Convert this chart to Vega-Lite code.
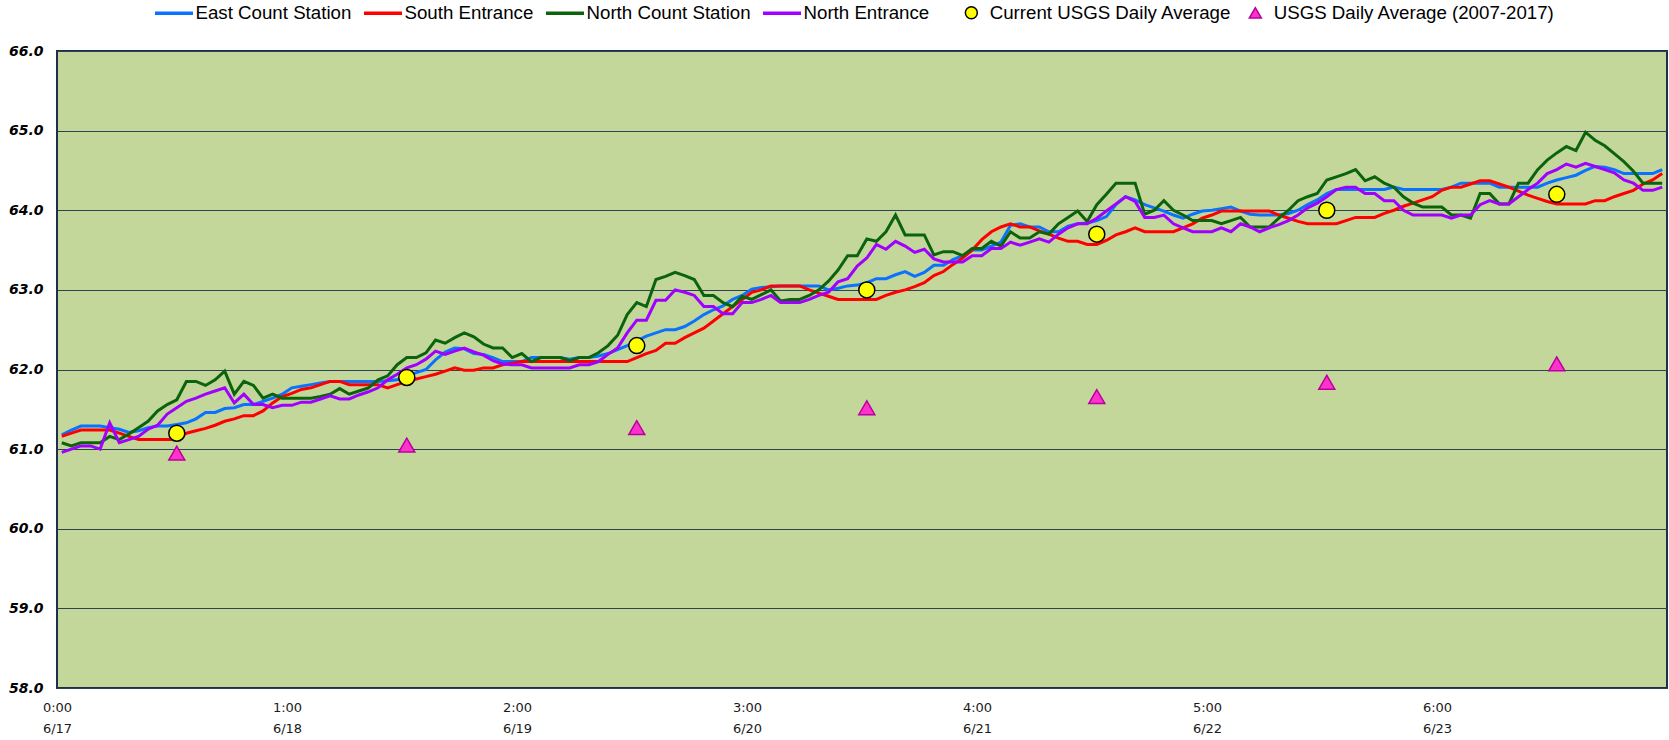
{
"$schema": "https://vega.github.io/schema/vega-lite/v6.json",
"width": 1610, "height": 637,
"autosize": {"type": "none"},
"padding": {"left": 57, "top": 51, "right": 2, "bottom": 52},
"background": "white",
"config": {"view": {"fill": "#C4D79B", "stroke": "#1F2E4D", "strokeWidth": 2}},
"datasets": {
"lines": [
{"h":0,"e":61.18,"s":61.16,"g":61.08,"p":60.96},
{"h":1,"e":61.24,"s":61.20,"g":61.04,"p":61.00},
{"h":2,"e":61.29,"s":61.24,"g":61.08,"p":61.04},
{"h":3,"e":61.29,"s":61.24,"g":61.08,"p":61.04},
{"h":4,"e":61.29,"s":61.24,"g":61.08,"p":61.00},
{"h":5,"e":61.27,"s":61.24,"g":61.16,"p":61.33},
{"h":6,"e":61.25,"s":61.20,"g":61.12,"p":61.08},
{"h":7,"e":61.21,"s":61.16,"g":61.19,"p":61.12},
{"h":8,"e":61.23,"s":61.12,"g":61.27,"p":61.16},
{"h":9,"e":61.27,"s":61.12,"g":61.35,"p":61.25},
{"h":10,"e":61.29,"s":61.12,"g":61.48,"p":61.30},
{"h":11,"e":61.29,"s":61.12,"g":61.56,"p":61.44},
{"h":12,"e":61.31,"s":61.12,"g":61.62,"p":61.52},
{"h":13,"e":61.33,"s":61.20,"g":61.85,"p":61.60},
{"h":14,"e":61.38,"s":61.23,"g":61.85,"p":61.64},
{"h":15,"e":61.46,"s":61.26,"g":61.80,"p":61.69},
{"h":16,"e":61.46,"s":61.30,"g":61.87,"p":61.73},
{"h":17,"e":61.51,"s":61.35,"g":61.98,"p":61.77},
{"h":18,"e":61.52,"s":61.38,"g":61.69,"p":61.58},
{"h":19,"e":61.56,"s":61.42,"g":61.85,"p":61.69},
{"h":20,"e":61.56,"s":61.42,"g":61.80,"p":61.56},
{"h":21,"e":61.60,"s":61.48,"g":61.64,"p":61.56},
{"h":22,"e":61.64,"s":61.58,"g":61.69,"p":61.52},
{"h":23,"e":61.69,"s":61.66,"g":61.64,"p":61.55},
{"h":24,"e":61.77,"s":61.70,"g":61.64,"p":61.55},
{"h":25,"e":61.79,"s":61.75,"g":61.64,"p":61.59},
{"h":26,"e":61.81,"s":61.77,"g":61.64,"p":61.59},
{"h":27,"e":61.83,"s":61.81,"g":61.66,"p":61.63},
{"h":28,"e":61.85,"s":61.85,"g":61.69,"p":61.67},
{"h":29,"e":61.85,"s":61.85,"g":61.76,"p":61.63},
{"h":30,"e":61.85,"s":61.81,"g":61.69,"p":61.63},
{"h":31,"e":61.85,"s":61.81,"g":61.73,"p":61.68},
{"h":32,"e":61.85,"s":61.81,"g":61.77,"p":61.72},
{"h":33,"e":61.85,"s":61.81,"g":61.87,"p":61.77},
{"h":34,"e":61.86,"s":61.77,"g":61.92,"p":61.87},
{"h":35,"e":61.87,"s":61.81,"g":62.06,"p":61.94},
{"h":36,"e":61.92,"s":61.85,"g":62.15,"p":62.02},
{"h":37,"e":61.96,"s":61.88,"g":62.15,"p":62.06},
{"h":38,"e":62.00,"s":61.91,"g":62.21,"p":62.13},
{"h":39,"e":62.12,"s":61.94,"g":62.37,"p":62.23},
{"h":40,"e":62.22,"s":61.98,"g":62.33,"p":62.19},
{"h":41,"e":62.27,"s":62.02,"g":62.40,"p":62.23},
{"h":42,"e":62.26,"s":61.99,"g":62.46,"p":62.27},
{"h":43,"e":62.20,"s":61.99,"g":62.41,"p":62.22},
{"h":44,"e":62.19,"s":62.02,"g":62.32,"p":62.18},
{"h":45,"e":62.15,"s":62.02,"g":62.27,"p":62.11},
{"h":46,"e":62.10,"s":62.06,"g":62.27,"p":62.07},
{"h":47,"e":62.10,"s":62.08,"g":62.15,"p":62.06},
{"h":48,"e":62.10,"s":62.10,"g":62.20,"p":62.06},
{"h":49,"e":62.15,"s":62.10,"g":62.10,"p":62.02},
{"h":50,"e":62.15,"s":62.10,"g":62.15,"p":62.02},
{"h":51,"e":62.15,"s":62.10,"g":62.15,"p":62.02},
{"h":52,"e":62.15,"s":62.10,"g":62.15,"p":62.02},
{"h":53,"e":62.13,"s":62.10,"g":62.11,"p":62.02},
{"h":54,"e":62.15,"s":62.10,"g":62.15,"p":62.06},
{"h":55,"e":62.15,"s":62.10,"g":62.15,"p":62.06},
{"h":56,"e":62.17,"s":62.10,"g":62.21,"p":62.10},
{"h":57,"e":62.20,"s":62.10,"g":62.30,"p":62.19},
{"h":58,"e":62.25,"s":62.10,"g":62.43,"p":62.27},
{"h":59,"e":62.30,"s":62.10,"g":62.69,"p":62.46},
{"h":60,"e":62.36,"s":62.15,"g":62.84,"p":62.62},
{"h":61,"e":62.42,"s":62.20,"g":62.79,"p":62.62},
{"h":62,"e":62.46,"s":62.24,"g":63.13,"p":62.87},
{"h":63,"e":62.50,"s":62.33,"g":63.17,"p":62.87},
{"h":64,"e":62.50,"s":62.33,"g":63.22,"p":63.00},
{"h":65,"e":62.54,"s":62.40,"g":63.18,"p":62.97},
{"h":66,"e":62.61,"s":62.46,"g":63.13,"p":62.93},
{"h":67,"e":62.69,"s":62.52,"g":62.93,"p":62.79},
{"h":68,"e":62.75,"s":62.61,"g":62.93,"p":62.79},
{"h":69,"e":62.80,"s":62.70,"g":62.84,"p":62.70},
{"h":70,"e":62.88,"s":62.79,"g":62.79,"p":62.70},
{"h":71,"e":62.93,"s":62.88,"g":62.92,"p":62.84},
{"h":72,"e":63.01,"s":62.97,"g":62.88,"p":62.84},
{"h":73,"e":63.03,"s":63.00,"g":62.94,"p":62.88},
{"h":74,"e":63.04,"s":63.05,"g":63.00,"p":62.93},
{"h":75,"e":63.05,"s":63.05,"g":62.86,"p":62.84},
{"h":76,"e":63.05,"s":63.05,"g":62.88,"p":62.84},
{"h":77,"e":63.05,"s":63.05,"g":62.88,"p":62.84},
{"h":78,"e":63.05,"s":63.00,"g":62.93,"p":62.88},
{"h":79,"e":63.05,"s":62.96,"g":63.00,"p":62.93},
{"h":80,"e":63.00,"s":62.92,"g":63.11,"p":62.97},
{"h":81,"e":63.02,"s":62.88,"g":63.25,"p":63.10},
{"h":82,"e":63.05,"s":62.88,"g":63.43,"p":63.14},
{"h":83,"e":63.06,"s":62.88,"g":63.43,"p":63.30},
{"h":84,"e":63.09,"s":62.88,"g":63.64,"p":63.40},
{"h":85,"e":63.14,"s":62.88,"g":63.61,"p":63.57},
{"h":86,"e":63.14,"s":62.93,"g":63.73,"p":63.51},
{"h":87,"e":63.19,"s":62.97,"g":63.94,"p":63.61},
{"h":88,"e":63.23,"s":63.00,"g":63.69,"p":63.55},
{"h":89,"e":63.17,"s":63.04,"g":63.69,"p":63.47},
{"h":90,"e":63.22,"s":63.09,"g":63.69,"p":63.51},
{"h":91,"e":63.31,"s":63.18,"g":63.44,"p":63.39},
{"h":92,"e":63.31,"s":63.23,"g":63.48,"p":63.35},
{"h":93,"e":63.38,"s":63.32,"g":63.48,"p":63.35},
{"h":94,"e":63.43,"s":63.40,"g":63.43,"p":63.35},
{"h":95,"e":63.50,"s":63.50,"g":63.52,"p":63.43},
{"h":96,"e":63.50,"s":63.63,"g":63.52,"p":63.43},
{"h":97,"e":63.55,"s":63.73,"g":63.61,"p":63.52},
{"h":98,"e":63.60,"s":63.79,"g":63.55,"p":63.52},
{"h":99,"e":63.81,"s":63.83,"g":63.73,"p":63.60},
{"h":100,"e":63.83,"s":63.79,"g":63.65,"p":63.56},
{"h":101,"e":63.79,"s":63.79,"g":63.65,"p":63.60},
{"h":102,"e":63.79,"s":63.74,"g":63.73,"p":63.64},
{"h":103,"e":63.73,"s":63.70,"g":63.70,"p":63.60},
{"h":104,"e":63.73,"s":63.65,"g":63.83,"p":63.70},
{"h":105,"e":63.80,"s":63.61,"g":63.91,"p":63.78},
{"h":106,"e":63.83,"s":63.61,"g":63.99,"p":63.83},
{"h":107,"e":63.84,"s":63.57,"g":63.86,"p":63.83},
{"h":108,"e":63.87,"s":63.57,"g":64.07,"p":63.90},
{"h":109,"e":63.92,"s":63.62,"g":64.20,"p":63.99},
{"h":110,"e":64.07,"s":63.69,"g":64.34,"p":64.08},
{"h":111,"e":64.17,"s":63.73,"g":64.34,"p":64.17},
{"h":112,"e":64.13,"s":63.78,"g":64.34,"p":64.11},
{"h":113,"e":64.07,"s":63.73,"g":63.95,"p":63.91},
{"h":114,"e":64.03,"s":63.73,"g":64.00,"p":63.91},
{"h":115,"e":63.99,"s":63.73,"g":64.12,"p":63.94},
{"h":116,"e":63.94,"s":63.73,"g":64.00,"p":63.83},
{"h":117,"e":63.90,"s":63.78,"g":63.94,"p":63.78},
{"h":118,"e":63.95,"s":63.83,"g":63.87,"p":63.73},
{"h":119,"e":63.99,"s":63.90,"g":63.87,"p":63.73},
{"h":120,"e":64.00,"s":63.94,"g":63.87,"p":63.73},
{"h":121,"e":64.02,"s":63.99,"g":63.83,"p":63.78},
{"h":122,"e":64.04,"s":63.99,"g":63.87,"p":63.73},
{"h":123,"e":63.99,"s":63.99,"g":63.91,"p":63.83},
{"h":124,"e":63.95,"s":63.99,"g":63.79,"p":63.79},
{"h":125,"e":63.94,"s":63.99,"g":63.79,"p":63.73},
{"h":126,"e":63.94,"s":63.99,"g":63.79,"p":63.78},
{"h":127,"e":63.94,"s":63.94,"g":63.90,"p":63.82},
{"h":128,"e":63.96,"s":63.90,"g":64.00,"p":63.87},
{"h":129,"e":64.00,"s":63.86,"g":64.12,"p":63.94},
{"h":130,"e":64.07,"s":63.83,"g":64.17,"p":64.03},
{"h":131,"e":64.13,"s":63.83,"g":64.21,"p":64.09},
{"h":132,"e":64.21,"s":63.83,"g":64.38,"p":64.17},
{"h":133,"e":64.26,"s":63.83,"g":64.42,"p":64.26},
{"h":134,"e":64.26,"s":63.87,"g":64.46,"p":64.29},
{"h":135,"e":64.26,"s":63.91,"g":64.51,"p":64.29},
{"h":136,"e":64.26,"s":63.91,"g":64.37,"p":64.21},
{"h":137,"e":64.26,"s":63.91,"g":64.42,"p":64.21},
{"h":138,"e":64.26,"s":63.96,"g":64.34,"p":64.12},
{"h":139,"e":64.29,"s":64.00,"g":64.29,"p":64.12},
{"h":140,"e":64.26,"s":64.05,"g":64.17,"p":64.00},
{"h":141,"e":64.26,"s":64.09,"g":64.09,"p":63.94},
{"h":142,"e":64.26,"s":64.13,"g":64.04,"p":63.94},
{"h":143,"e":64.26,"s":64.17,"g":64.04,"p":63.94},
{"h":144,"e":64.26,"s":64.25,"g":64.04,"p":63.94},
{"h":145,"e":64.29,"s":64.29,"g":63.94,"p":63.90},
{"h":146,"e":64.34,"s":64.29,"g":63.94,"p":63.94},
{"h":147,"e":64.34,"s":64.33,"g":63.90,"p":63.94},
{"h":148,"e":64.34,"s":64.37,"g":64.21,"p":64.07},
{"h":149,"e":64.34,"s":64.37,"g":64.21,"p":64.12},
{"h":150,"e":64.29,"s":64.33,"g":64.08,"p":64.08},
{"h":151,"e":64.29,"s":64.29,"g":64.08,"p":64.08},
{"h":152,"e":64.29,"s":64.24,"g":64.34,"p":64.17},
{"h":153,"e":64.29,"s":64.19,"g":64.34,"p":64.26},
{"h":154,"e":64.29,"s":64.15,"g":64.51,"p":64.34},
{"h":155,"e":64.34,"s":64.11,"g":64.63,"p":64.46},
{"h":156,"e":64.38,"s":64.08,"g":64.72,"p":64.51},
{"h":157,"e":64.41,"s":64.08,"g":64.80,"p":64.58},
{"h":158,"e":64.44,"s":64.08,"g":64.75,"p":64.54},
{"h":159,"e":64.50,"s":64.08,"g":64.98,"p":64.59},
{"h":160,"e":64.55,"s":64.12,"g":64.88,"p":64.55},
{"h":161,"e":64.54,"s":64.12,"g":64.81,"p":64.51},
{"h":162,"e":64.51,"s":64.17,"g":64.71,"p":64.47},
{"h":163,"e":64.46,"s":64.21,"g":64.61,"p":64.38},
{"h":164,"e":64.46,"s":64.25,"g":64.49,"p":64.34},
{"h":165,"e":64.46,"s":64.33,"g":64.34,"p":64.25},
{"h":166,"e":64.46,"s":64.38,"g":64.34,"p":64.25},
{"h":167,"e":64.51,"s":64.46,"g":64.34,"p":64.29}
],
"avg": [
{"h":12,"v":61.20,"kind":"Current USGS Daily Average"},
{"h":36,"v":61.90,"kind":"Current USGS Daily Average"},
{"h":60,"v":62.30,"kind":"Current USGS Daily Average"},
{"h":84,"v":63.00,"kind":"Current USGS Daily Average"},
{"h":108,"v":63.70,"kind":"Current USGS Daily Average"},
{"h":132,"v":64.00,"kind":"Current USGS Daily Average"},
{"h":156,"v":64.20,"kind":"Current USGS Daily Average"},
{"h":12,"v":60.95,"kind":"USGS Daily Average (2007-2017)"},
{"h":36,"v":61.05,"kind":"USGS Daily Average (2007-2017)"},
{"h":60,"v":61.27,"kind":"USGS Daily Average (2007-2017)"},
{"h":84,"v":61.52,"kind":"USGS Daily Average (2007-2017)"},
{"h":108,"v":61.66,"kind":"USGS Daily Average (2007-2017)"},
{"h":132,"v":61.84,"kind":"USGS Daily Average (2007-2017)"},
{"h":156,"v":62.07,"kind":"USGS Daily Average (2007-2017)"}
]
},
"layer": [
{
"data": {"name": "lines"},
"transform": [{"fold": ["e", "s", "g", "p"], "as": ["series", "temp"]}],
"mark": {"type": "line", "strokeWidth": 3},
"encoding": {
"x": {"field": "h", "type": "quantitative",
"scale": {"domain": [-0.5, 167.5], "nice": false, "zero": false},
"axis": {"values": [-0.5, 23.5, 47.5, 71.5, 95.5, 119.5, 143.5],
"labelExpr": "[floor((datum.value+0.5)/24) + ':00', '6/' + (17 + floor((datum.value+0.5)/24))]",
"labelFont": "DejaVu Sans", "labelFontSize": 13, "labelColor": "#1a1a1a",
"ticks": false, "domain": false, "grid": false, "labelPadding": 13,
"labelBaseline": "top", "labelLineHeight": 21, "labelFlush": false, "labelOverlap": false, "title": null}},
"y": {"field": "temp", "type": "quantitative",
"scale": {"domain": [58, 66], "nice": false, "zero": false},
"axis": {"values": [58, 59, 60, 61, 62, 63, 64, 65, 66], "format": ".1f",
"labelFont": "DejaVu Sans", "labelFontSize": 14, "labelFontStyle": "italic", "labelFontWeight": "bold",
"labelColor": "#000000", "ticks": false, "domain": false, "labelPadding": 14,
"grid": true, "gridColor": "#2E4256", "gridWidth": 1.2, "title": null}},
"color": {"field": "series", "type": "nominal",
"scale": {"domain": ["e", "s", "g", "p"], "range": ["#0A72FF", "#FF0000", "#0B640B", "#A100FF"]},
"legend": {"orient": "none", "legendX": 96, "legendY": -59, "direction": "horizontal", "columns": 4,
"title": null, "symbolType": "stroke", "symbolSize": 1444, "symbolStrokeWidth": 3.5,
"labelFont": "Liberation Sans", "labelFontSize": 18.7, "labelColor": "#000000", "labelOffset": 0.5,
"columnPadding": 5, "labelLimit": 400, "padding": 0,
"labelExpr": "datum.value == 'e' ? 'East Count Station' : datum.value == 's' ? 'South Entrance' : datum.value == 'g' ? 'North Count Station' : 'North Entrance'"}}
}
},
{
"data": {"name": "avg"},
"mark": {"type": "point", "filled": true, "size": 256, "opacity": 1, "strokeWidth": 1.5},
"encoding": {
"x": {"field": "h", "type": "quantitative"},
"y": {"field": "v", "type": "quantitative"},
"shape": {"field": "kind", "type": "nominal",
"scale": {"domain": ["Current USGS Daily Average", "USGS Daily Average (2007-2017)"], "range": ["circle", "triangle-up"]},
"legend": {"orient": "none", "legendX": 905, "legendY": -48, "direction": "horizontal", "columns": 2, "title": null,
"symbolSize": 144, "symbolStrokeWidth": 1.5, "labelFont": "Liberation Sans", "labelFontSize": 18.7, "labelColor": "#000000",
"labelOffset": 9, "columnPadding": 14, "labelLimit": 400, "padding": 0}},
"fill": {"field": "kind", "type": "nominal",
"scale": {"domain": ["Current USGS Daily Average", "USGS Daily Average (2007-2017)"], "range": ["#FFFF00", "#FF33CC"]},
"legend": {"orient": "none", "legendX": 905, "legendY": -48, "direction": "horizontal", "columns": 2, "title": null,
"symbolSize": 144, "symbolStrokeWidth": 1.5, "labelFont": "Liberation Sans", "labelFontSize": 18.7, "labelColor": "#000000",
"labelOffset": 9, "columnPadding": 14, "labelLimit": 400, "padding": 0}},
"stroke": {"field": "kind", "type": "nominal",
"scale": {"domain": ["Current USGS Daily Average", "USGS Daily Average (2007-2017)"], "range": ["#000000", "#B8009E"]},
"legend": {"orient": "none", "legendX": 905, "legendY": -48, "direction": "horizontal", "columns": 2, "title": null,
"symbolSize": 144, "symbolStrokeWidth": 1.5, "labelFont": "Liberation Sans", "labelFontSize": 18.7, "labelColor": "#000000",
"labelOffset": 9, "columnPadding": 14, "labelLimit": 400, "padding": 0}}
}
}
]
}
